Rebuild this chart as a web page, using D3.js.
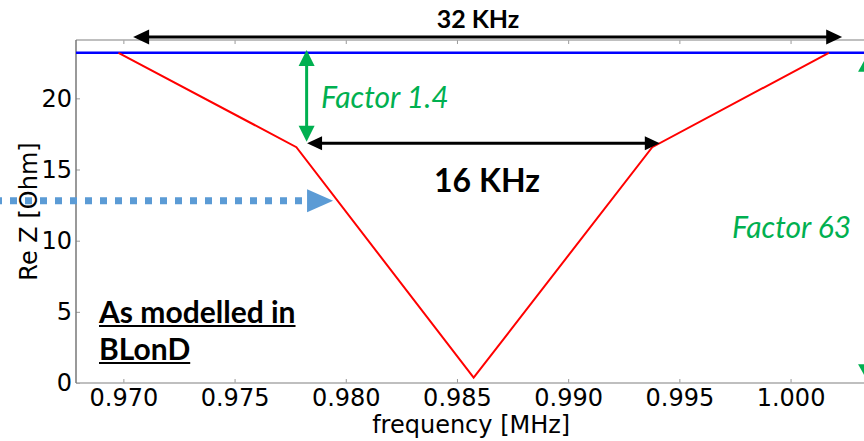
<!DOCTYPE html>
<html><head><meta charset="utf-8">
<script src="https://cdn.jsdelivr.net/npm/d3@7"></script>
<style>body{margin:0;background:#fff}svg{display:block}</style>
</head><body>
<svg id="chart" width="864" height="441"></svg>
<script>
// Impedance model (real part) around the resonance
const freqMHz = [0.96978, 0.97778, 0.98575, 0.99378, 1.00172];
const reZOhm  = [23.2, 16.57, 0.37, 16.57, 23.2];
// flat reference level
const flatLevel = 23.2;

const xTicks = [0.970, 0.975, 0.980, 0.985, 0.990, 0.995, 1.000];
const yTicks = [0, 5, 10, 15, 20];
const xDomain = [0.96787, 1.0035];
const yDomain = [0, 24.1];

// annotation anchors in data units
const span32 = [0.97044, 1.00232];
const span16 = [0.97826, 0.99412];
const span16Level = 16.85;
const factor14X = 0.97824, factor14Range = [23.4, 16.95];
const factor63X = 1.00344, factor63Range = [23.0, 0.2];
const cutLevel = 12.8, cutTip = 0.97943;

const svg = d3.select("#chart");
const W = 864, H = 441;
const L = 76, T = 40, B = 383, R = 868.4;

const x = d3.scaleLinear().domain(xDomain).range([L, R]);
const y = d3.scaleLinear().domain(yDomain).range([B, T]);

const tickFont = "'DejaVu Sans', sans-serif";
const noteFont = "Lato, 'Open Sans', sans-serif";

// axes
const gx = svg.append("g").attr("transform", `translate(0,${B})`)
  .call(d3.axisBottom(x).tickValues(xTicks).tickFormat(d3.format(".3f"))
        .tickSize(-4).tickSizeOuter(0).tickPadding(6));
const gxTop = svg.append("g").attr("transform", `translate(0,${T})`)
  .call(d3.axisTop(x).tickValues(xTicks).tickFormat("")
        .tickSize(-4).tickSizeOuter(0));
const gy = svg.append("g").attr("transform", `translate(${L},0)`)
  .call(d3.axisLeft(y).tickValues(yTicks).tickFormat(d3.format("d"))
        .tickSize(-4).tickSizeOuter(0).tickPadding(4));
[gx, gxTop, gy].forEach(g => {
  g.select(".domain").remove();
  g.selectAll(".tick line").attr("stroke", "#999").attr("stroke-width", 1);
  g.selectAll(".tick text").attr("font-family", tickFont).attr("font-size", 24).attr("fill", "#000");
});

// spines
svg.append("line").attr("x1", L).attr("x2", W).attr("y1", B).attr("y2", B).attr("stroke", "#aaa").attr("stroke-width", 1.5);
svg.append("line").attr("x1", L).attr("x2", W).attr("y1", T).attr("y2", T).attr("stroke", "#aaa").attr("stroke-width", 1.5);
svg.append("line").attr("x1", L).attr("x2", L).attr("y1", T).attr("y2", B).attr("stroke", "#777").attr("stroke-width", 1.5);

// axis labels
svg.append("text").attr("x", (L + R) / 2 - 1).attr("y", 433)
  .attr("text-anchor", "middle").attr("font-family", tickFont).attr("font-size", 24).attr("fill", "#000")
  .text("frequency [MHz]");
svg.append("text").attr("transform", `translate(37,${(T + B) / 2}) rotate(-90)`)
  .attr("text-anchor", "middle").attr("font-family", tickFont).attr("font-size", 24).attr("fill", "#000")
  .text("Re Z [Ohm]");

// flat level
svg.append("line").attr("x1", L).attr("x2", W)
  .attr("y1", y(flatLevel)).attr("y2", y(flatLevel))
  .attr("stroke", "#0000ff").attr("stroke-width", 2.5);

// modelled impedance
const pts = freqMHz.map((f, i) => [f, reZOhm[i]]);
svg.append("path").datum(pts)
  .attr("d", d3.line().x(d => x(d[0])).y(d => y(d[1])))
  .attr("fill", "none").attr("stroke", "#ff0000").attr("stroke-width", 2);

// arrow helper
function arrow(x1, y1, x2, y2, o) {
  const dx = x2 - x1, dy = y2 - y1, len = Math.hypot(dx, dy);
  const ux = dx / len, uy = dy / len, nx = -uy, ny = ux;
  const hl = o.headLen, hw = o.headWidth / 2;
  const sx = o.start ? x1 + ux * hl * 0.8 : x1, sy = o.start ? y1 + uy * hl * 0.8 : y1;
  const ex = o.end ? x2 - ux * hl * 0.8 : x2, ey = o.end ? y2 - uy * hl * 0.8 : y2;
  const ln = svg.append("line").attr("x1", sx).attr("y1", sy).attr("x2", ex).attr("y2", ey)
    .attr("stroke", o.color).attr("stroke-width", o.width);
  if (o.dash) ln.attr("stroke-dasharray", o.dash);
  const head = (tx, ty, dirx, diry) => {
    const bx = tx - dirx * hl, by = ty - diry * hl;
    svg.append("polygon").attr("points",
      `${tx},${ty} ${bx + nx * hw},${by + ny * hw} ${bx - nx * hw},${by - ny * hw}`)
      .attr("fill", o.color);
  };
  if (o.end) head(x2, y2, ux, uy);
  if (o.start) head(x1, y1, -ux, -uy);
}

// 32 kHz span
arrow(x(span32[0]), T - 3, x(span32[1]), T - 3,
  {color: "#000", width: 3, headLen: 16, headWidth: 15, start: true, end: true});
svg.append("text").attr("x", 478).attr("y", 28).attr("text-anchor", "middle")
  .attr("font-family", noteFont).attr("font-weight", 700).attr("font-size", 25).text("32 KHz");

// 16 kHz span
arrow(x(span16[0]), y(span16Level), x(span16[1]), y(span16Level),
  {color: "#000", width: 3, headLen: 15, headWidth: 14, start: true, end: true});
svg.append("text").attr("x", 487).attr("y", 192).attr("text-anchor", "middle")
  .attr("font-family", noteFont).attr("font-weight", 700).attr("font-size", 32).text("16 KHz");

// factor 1.4
arrow(x(factor14X), y(factor14Range[0]), x(factor14X), y(factor14Range[1]),
  {color: "#00B050", width: 3, headLen: 16, headWidth: 16, start: true, end: true});
svg.append("text").attr("x", 321).attr("y", 108)
  .attr("font-family", noteFont).attr("font-style", "italic").attr("font-size", 30)
  .attr("fill", "#00B050").text("Factor 1.4");

// factor 63
arrow(x(factor63X), y(factor63Range[0]), x(factor63X), y(factor63Range[1]),
  {color: "#00B050", width: 3, headLen: 16, headWidth: 18, start: true, end: true});
svg.append("text").attr("x", 732).attr("y", 238)
  .attr("font-family", noteFont).attr("font-style", "italic").attr("font-size", 30)
  .attr("fill", "#00B050").text("Factor 63");

// dotted cut level
arrow(-5, y(cutLevel), x(cutTip), y(cutLevel),
  {color: "#5B9BD5", width: 7, headLen: 26, headWidth: 23, end: true, dash: "7,8"});

// caption
const cap = svg.append("g").attr("font-family", noteFont).attr("font-weight", 700).attr("font-size", 30).attr("fill", "#000");
[["As modelled in", 323], ["BLonD", 360]].forEach(([t, by]) => {
  const tx = cap.append("text").attr("x", 99).attr("y", by).text(t);
  const w = tx.node().getComputedTextLength();
  cap.append("line").attr("x1", 99).attr("x2", 99 + w).attr("y1", by + 3).attr("y2", by + 3)
    .attr("stroke", "#000").attr("stroke-width", 2);
});
</script>
</body></html>
